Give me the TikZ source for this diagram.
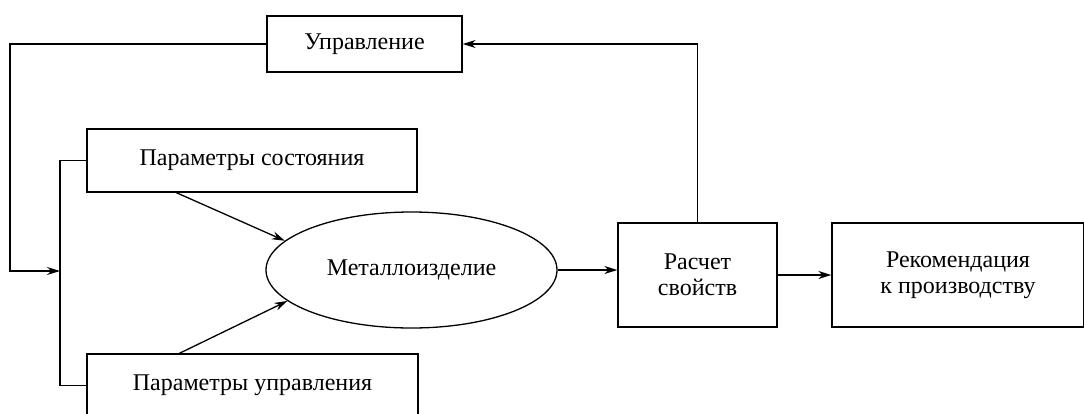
\documentclass[tikz,border=0pt]{standalone}
\usepackage{fontspec}
\setmainfont{Liberation Serif}
\usetikzlibrary{shapes.geometric,arrows.meta,calc}
\begin{document}
\begin{tikzpicture}[x=1pt,y=-1pt,
  every node/.style={font=\fontsize{24}{26}\selectfont},
  block/.style={draw,line width=1.3pt,rectangle,inner sep=0pt,align=center},
  oval/.style={draw,line width=1.3pt,ellipse,inner sep=0pt},
  link/.style={line width=1.3pt},
  arr/.style={link,-{Stealth[length=13pt,width=8pt]}}]
  \useasboundingbox (0,0) rectangle (1084,413);
  \begin{scope}
  \clip (0,0) rectangle (1084,413);
  % blocks
  \node[block,minimum width=195pt,minimum height=56pt] (upr) at (364.5,44) {Управление};
  \node[block,minimum width=330pt,minimum height=63pt] (ps) at (252,160.5) {Параметры состояния};
  \node[block,minimum width=331pt,minimum height=63pt] (pu) at (252.5,385.5) {Параметры управления};
  \node[oval,minimum width=291pt,minimum height=116pt] (el) at (411.5,270) {Металлоизделие};
  \node[block,minimum width=159pt,minimum height=104pt] (rs) at (697.5,275) {Расчет\\свойств};
  \node[block,minimum width=252pt,minimum height=104pt] (rek) at (958,275) {Рекомендация\\к производству};
  % helper points
  \coordinate (j) at (60,271);
  % feedback loop from the control block to the input junction
  \draw[arr] (upr.west) -| (10,271) -- (j);
  \draw[link] (ps.west) -| (j) |- (pu.west);
  % inputs into the product
  \draw[arr] ($(ps.south west)+(90,0)$) -- (el.167);
  \draw[arr] ($(pu.north west)+(93,0)$) -- (el.194);
  % main flow
  \draw[arr] (el.east) -- (el.east -| rs.west);
  \draw[arr] (rs.east) -- (rek.west);
  \draw[arr] (rs.north) |- (upr.east);
  \end{scope}
\end{tikzpicture}
\end{document}
